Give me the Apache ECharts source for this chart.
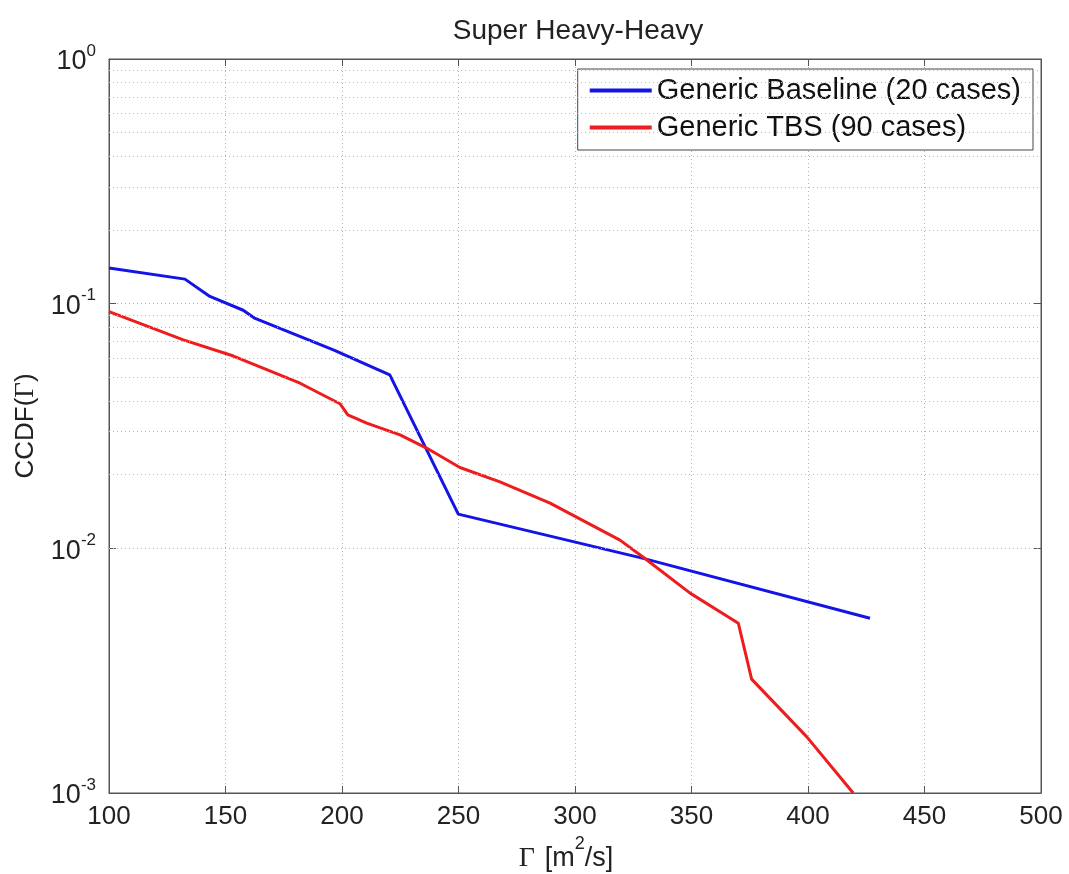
<!DOCTYPE html>
<html><head><meta charset="utf-8">
<script src="https://cdn.jsdelivr.net/npm/echarts@6/dist/echarts.min.js"></script>
<style>html,body{margin:0;padding:0;background:#fff}#c{width:1069px;height:874px}</style>
</head><body><div id="c"></div>
<script>
const xTicks = [100, 150, 200, 250, 300, 350, 400, 450, 500];
const yDecades = [0.001, 0.01, 0.1, 1];
const yMinorGrid = [0.002,0.003,0.004,0.005,0.006,0.007,0.008,0.009,
                    0.02,0.03,0.04,0.05,0.06,0.07,0.08,0.09,
                    0.2,0.3,0.4,0.5,0.6,0.7,0.8,0.9];
const baselineX = [100, 132.6, 143.3, 157.6, 162.7, 196.3, 220.5, 249.9, 329.3, 426.6];
const baselineY = [0.140, 0.126, 0.107, 0.094, 0.087, 0.0647, 0.0512, 0.0138, 0.0091, 0.00518];
const tbsX = [100, 131.9, 153.4, 182, 199.1, 202.5, 210.6, 224.9, 236.3, 250.6, 267.8, 289.3, 319.3, 329.3, 349.4, 370.1, 375.8, 399.4, 419.4];
const tbsY = [0.0928, 0.0711, 0.0611, 0.0473, 0.039, 0.0351, 0.0325, 0.0291, 0.0257, 0.0214, 0.0187, 0.0153, 0.0108, 0.0092, 0.00656, 0.00494, 0.00292, 0.0017, 0.001];
const seriesNames = ['Generic Baseline (20 cases)', 'Generic TBS (90 cases)'];

const chart = echarts.init(document.getElementById('c'));
const font = '"Liberation Sans", Arial, sans-serif';
const serif = '"Liberation Serif", "Times New Roman", serif';
const gridLine = {show: true, lineStyle: {color: '#b0b0b0', type: [1, 3], width: 1}};
const xMin = xTicks[0], xMax = xTicks[xTicks.length - 1], xInt = xTicks[1] - xTicks[0];
const yMin = yDecades[0], yMax = yDecades[yDecades.length - 1];

chart.setOption({
  animation: false,
  backgroundColor: '#fff',
  title: {text: 'Super Heavy-Heavy', left: 573, top: 12, textAlign: 'center',
    textStyle: {fontFamily: font, fontSize: 28, fontWeight: 'normal', color: '#222'}},
  grid: {left: 109, right: 28, top: 59, bottom: 81, show: true, borderColor: '#555', borderWidth: 1,
    backgroundColor: 'transparent', containLabel: false, outerBoundsMode: 'none'},
  legend: {
    orient: 'vertical', right: 36, top: 69, data: seriesNames, icon: 'rect',
    itemWidth: 62, itemHeight: 4, itemGap: 8,
    backgroundColor: '#fff', borderColor: '#444', borderWidth: 1,
    padding: [7, 12, 8, 12],
    textStyle: {fontFamily: font, fontSize: 29, color: '#111'}
  },
  xAxis: [{
    type: 'value', min: xMin, max: xMax, interval: xInt,
    axisLine: {show: true, onZero: false, lineStyle: {color: '#555'}},
    axisTick: {show: true, inside: true, length: 7, lineStyle: {color: '#555'}},
    axisLabel: {fontFamily: font, fontSize: 26, color: '#222', margin: 11},
    splitLine: gridLine,
    name: '{g|Γ}{a|[m}{s|2}{a|/s]}', nameLocation: 'middle', nameGap: 42,
    nameTextStyle: {padding: [0, 18, 0, 0], rich: {
      g: {fontFamily: serif, fontSize: 28, color: '#222', padding: [10, 10, 0, 0]},
      a: {fontFamily: font, fontSize: 27, color: '#222', padding: [10, 0, 0, 0]},
      s: {fontFamily: font, fontSize: 18, color: '#222', verticalAlign: 'top'}
    }}
  }, {
    type: 'value', position: 'top', min: xMin, max: xMax, interval: xInt,
    axisLine: {show: true, lineStyle: {color: '#555'}},
    axisTick: {show: true, inside: true, length: 7, lineStyle: {color: '#555'}},
    axisLabel: {show: false}, splitLine: {show: false}
  }],
  yAxis: [{
    type: 'log', logBase: 10, min: yMin, max: yMax,
    axisLine: {show: true, onZero: false, lineStyle: {color: '#555'}},
    axisTick: {show: true, inside: true, length: 7, lineStyle: {color: '#555'}},
    axisLabel: {
      margin: 13,
      formatter: v => '{b|10}{s|' + Math.round(Math.log10(v)) + '}',
      rich: {
        b: {fontFamily: font, fontSize: 27, color: '#222', padding: [6,0,0,0]},
        s: {fontFamily: font, fontSize: 17, color: '#222', verticalAlign: 'top'}
      }
    },
    splitLine: gridLine,
    name: '{a|CCDF(}{g|Γ}{a|)}', nameLocation: 'middle', nameGap: 70, nameRotate: 90,
    nameTextStyle: {rich: {
      a: {fontFamily: font, fontSize: 26, color: '#222'},
      g: {fontFamily: serif, fontSize: 27, color: '#222'}
    }}
  }, {
    type: 'log', logBase: 10, min: yMin, max: yMax, position: 'right',
    axisLine: {show: true, lineStyle: {color: '#555'}},
    axisTick: {show: true, inside: true, length: 7, lineStyle: {color: '#555'}},
    axisLabel: {show: false}, splitLine: {show: false}
  }],
  series: [{
    name: '__minor', type: 'line', data: [], silent: true,
    markLine: {silent: true, symbol: 'none', label: {show: false},
      lineStyle: {color: '#b8b8b8', type: [1, 3], width: 1},
      data: yMinorGrid.map(v => ({yAxis: v}))}
  }, {
    name: seriesNames[0], type: 'line', showSymbol: false, z: 3,
    data: baselineX.map((x, i) => [x, baselineY[i]]),
    lineStyle: {color: '#1414e6', width: 3}, itemStyle: {color: '#1414e6'}
  }, {
    name: seriesNames[1], type: 'line', showSymbol: false, z: 4,
    data: tbsX.map((x, i) => [x, tbsY[i]]),
    lineStyle: {color: '#ee1c1c', width: 3}, itemStyle: {color: '#ee1c1c'}
  }]
});
</script></body></html>
